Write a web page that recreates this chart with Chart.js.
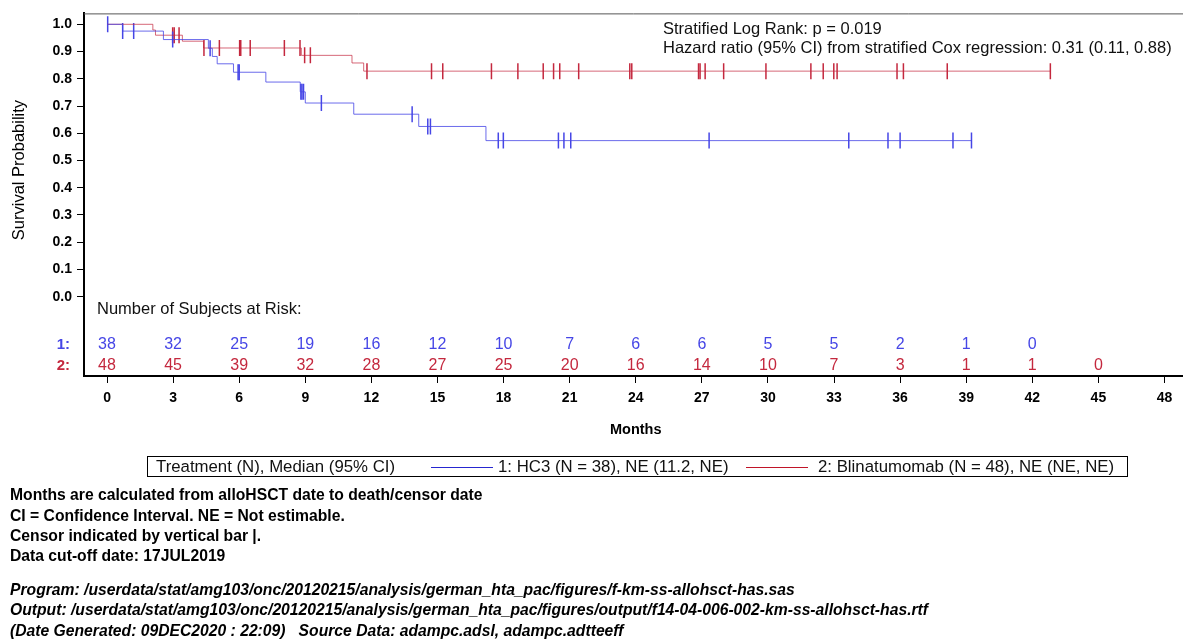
<!DOCTYPE html>
<html>
<head>
<meta charset="utf-8">
<script src="https://cdn.jsdelivr.net/npm/chart.js@4.4.0/dist/chart.umd.min.js"></script>
<style>
  body { margin: 0; background: #fff; font-family: "Liberation Sans", Arial, sans-serif; }
  #wrap { position: relative; width: 1183px; height: 642px; overflow: hidden; }
  #legendBox {
    position: absolute; left: 147px; top: 456px; width: 979px; height: 19px;
    border: 1px solid #000; font-size: 16.8px; color: #111; line-height: 19px;
  }
  #legendBox span { position: absolute; top: 0; white-space: nowrap; }
  #legendBox i { position: absolute; top: 10px; height: 1px; width: 62px; }
  .foot { position: absolute; left: 10px; font-size: 15.7px; line-height: 20px; color: #000; white-space: nowrap; }
  .bold { font-weight: bold; }
  .ital { font-style: italic; font-weight: bold; }
</style>
</head>
<body>
<div id="wrap">
  <canvas id="kmChart" width="1183" height="642"></canvas>
  <div id="legendBox">
    <span style="left:8px">Treatment (N), Median (95% CI)</span>
    <i style="left:283px;background:#2626d0"></i>
    <span style="left:350px">1: HC3 (N = 38), NE (11.2, NE)</span>
    <i style="left:598px;background:#c01428"></i>
    <span style="left:670px">2: Blinatumomab (N = 48), NE (NE, NE)</span>
  </div>
  <div class="foot bold" style="top:485px">Months are calculated from alloHSCT date to death/censor date</div>
  <div class="foot bold" style="top:506px">CI = Confidence Interval. NE = Not estimable.</div>
  <div class="foot bold" style="top:526px">Censor indicated by vertical bar |.</div>
  <div class="foot bold" style="top:546px">Data cut-off date: 17JUL2019</div>
  <div class="foot ital" style="top:580px">Program: /userdata/stat/amg103/onc/20120215/analysis/german_hta_pac/figures/f-km-ss-allohsct-has.sas</div>
  <div class="foot ital" style="top:600px">Output: /userdata/stat/amg103/onc/20120215/analysis/german_hta_pac/figures/output/f14-04-006-002-km-ss-allohsct-has.rtf</div>
  <div class="foot ital" style="top:621px">(Date Generated: 09DEC2020 : 22:09)&nbsp;&nbsp; Source Data: adampc.adsl, adampc.adtteeff</div>
</div>
<script>
// x axis tick values (months) and y axis tick values
const monthTicks = [0, 3, 6, 9, 12, 15, 18, 21, 24, 27, 30, 33, 36, 39, 42, 45, 48];
const survTicks = [0, 0.1, 0.2, 0.3, 0.4, 0.5, 0.6, 0.7, 0.8, 0.9, 1.0];

// KM step curves: time of each drop and survival after it (last entry = end of follow-up)
const hc3Time = [0, 0.71, 2.56, 4.60, 4.78, 5.00, 5.74, 7.21, 8.77, 9.00, 11.20, 14.15, 17.20, 39.24];
const hc3Surv = [1.0, 0.975, 0.944, 0.912, 0.882, 0.855, 0.824, 0.788, 0.752, 0.711, 0.670, 0.625, 0.573, 0.573];
const blinTime = [0, 2.08, 2.20, 3.42, 4.38, 8.82, 11.12, 11.65, 42.82];
const blinSurv = [1.0, 0.979, 0.960, 0.938, 0.913, 0.886, 0.858, 0.828, 0.828];

// censor times
const hc3Censor = [0.03, 0.71, 1.21, 2.98, 4.68, 5.95, 6.00, 8.80, 8.85, 8.92, 9.73, 13.85, 14.56, 14.68,
  17.76, 17.99, 20.49, 20.74, 21.05, 27.33, 33.67, 35.45, 36.00, 38.40, 39.24];
const blinCensor = [2.98, 3.05, 3.27, 4.40, 5.10, 6.02, 6.07, 6.50, 8.05, 8.76, 8.97, 9.23, 11.80,
  14.73, 15.24, 17.45, 18.65, 19.80, 20.27, 20.55, 21.41, 23.73, 23.82, 26.85, 26.92, 27.15, 27.99,
  29.91, 31.95, 32.51, 32.99, 33.14, 35.86, 36.15, 38.14, 42.82];

// number at risk
const riskMonths = [0, 3, 6, 9, 12, 15, 18, 21, 24, 27, 30, 33, 36, 39, 42, 45];
const hc3AtRisk = [38, 32, 25, 19, 16, 12, 10, 7, 6, 6, 5, 5, 2, 1, 0];
const blinAtRisk = [48, 45, 39, 32, 28, 27, 25, 20, 16, 14, 10, 7, 3, 1, 1, 0];

const BLUE = "rgb(70,70,230)";
const RED = "rgb(196,40,62)";
const FONT = "'Liberation Sans', Arial, sans-serif";

// survival level at a censor time (value of the step curve)
function levelAt(times, surv, t) {
  let s = surv[0];
  for (let i = 0; i < times.length; i++) {
    if (times[i] <= t) s = surv[i];
  }
  return s;
}

const pts = (xs, ys) => xs.map((x, i) => ({ x: x, y: ys[i] }));

const riskTable = {
  id: "riskTable",
  afterDraw(chart) {
    const ctx = chart.ctx;
    const xs = chart.scales.x;
    const ys = chart.scales.y;
    const area = chart.chartArea;
    ctx.save();

    // top frame line, and the x axis line carried on to the page edge
    ctx.strokeStyle = "#555";
    ctx.lineWidth = 1;
    ctx.beginPath();
    ctx.moveTo(area.left, area.top + 0.5);
    ctx.lineTo(chart.width, area.top + 0.5);
    ctx.stroke();
    ctx.strokeStyle = "#000";
    ctx.lineWidth = 2;
    ctx.beginPath();
    ctx.moveTo(area.right - 1, area.bottom);
    ctx.lineTo(chart.width, area.bottom);
    ctx.stroke();

    ctx.textBaseline = "middle";
    ctx.fillStyle = "#111";
    ctx.font = "16.5px " + FONT;
    ctx.textAlign = "left";
    ctx.fillText("Stratified Log Rank: p = 0.019", 663, 29);
    ctx.fillText("Hazard ratio (95% CI) from stratified Cox regression: 0.31 (0.11, 0.88)", 663, 48);

    ctx.fillText("Number of Subjects at Risk:", 97, 309);

    ctx.font = "bold 15px " + FONT;
    ctx.textAlign = "right";
    ctx.fillStyle = BLUE;
    ctx.fillText("1:", 70, 345);
    ctx.fillStyle = RED;
    ctx.fillText("2:", 70, 366);

    ctx.font = "16px " + FONT;
    ctx.textAlign = "center";
    ctx.fillStyle = BLUE;
    hc3AtRisk.forEach((n, i) => ctx.fillText(String(n), xs.getPixelForValue(riskMonths[i]), 345));
    ctx.fillStyle = RED;
    blinAtRisk.forEach((n, i) => ctx.fillText(String(n), xs.getPixelForValue(riskMonths[i]), 366));

    // axis titles
    ctx.fillStyle = "#000";
    ctx.font = "bold 14.5px " + FONT;
    ctx.fillText("Months", xs.getPixelForValue(24), 430);

    ctx.font = "16.5px " + FONT;
    ctx.translate(19, ys.getPixelForValue(0.465));
    ctx.rotate(-Math.PI / 2);
    ctx.fillText("Survival Probability", 0, 0);
    ctx.restore();
  }
};

new Chart(document.getElementById("kmChart"), {
  type: "line",
  data: {
    datasets: [
      {
        label: "HC3",
        data: pts(hc3Time, hc3Surv),
        borderColor: "rgba(70,70,230,0.8)",
        borderWidth: 1,
        stepped: "before",
        pointRadius: 0,
        fill: false
      },
      {
        label: "Blinatumomab",
        data: pts(blinTime, blinSurv),
        borderColor: "rgba(196,40,62,0.7)",
        borderWidth: 1,
        stepped: "before",
        pointRadius: 0,
        fill: false
      },
      {
        label: "HC3 censored",
        data: hc3Censor.map(t => ({ x: t, y: levelAt(hc3Time, hc3Surv, t) })),
        showLine: false,
        pointStyle: "line",
        rotation: 90,
        pointRadius: 8,
        borderColor: BLUE,
        pointBorderWidth: 1.5
      },
      {
        label: "Blinatumomab censored",
        data: blinCensor.map(t => ({ x: t, y: levelAt(blinTime, blinSurv, t) })),
        showLine: false,
        pointStyle: "line",
        rotation: 90,
        pointRadius: 8,
        borderColor: RED,
        pointBorderWidth: 1.5
      }
    ]
  },
  options: {
    responsive: false,
    animation: false,
    devicePixelRatio: 1,
    layout: { padding: { top: 10, left: 0, right: 0, bottom: 0 } },
    plugins: {
      legend: { display: false },
      tooltip: { enabled: false }
    },
    scales: {
      x: {
        type: "linear",
        min: -1.045,
        max: 48.41,
        afterFit: (scale) => { scale.height = 266; },
        afterBuildTicks: (scale) => { scale.ticks = monthTicks.map(v => ({ value: v })); },
        grid: { drawOnChartArea: false, drawTicks: true, tickLength: 7, tickColor: "#000" },
        border: { color: "#000", width: 2 },
        ticks: {
          color: "#000",
          font: { family: FONT, size: 14, weight: "bold" },
          padding: 7,
          maxRotation: 0,
          autoSkip: false
        }
      },
      y: {
        type: "linear",
        min: -0.291,
        max: 1.04,
        afterFit: (scale) => { scale.width = 84; },
        afterBuildTicks: (scale) => { scale.ticks = survTicks.map(v => ({ value: v })); },
        grid: { drawOnChartArea: false, drawTicks: true, tickLength: 7, tickColor: "#000" },
        border: { color: "#000", width: 2 },
        ticks: {
          color: "#000",
          font: { family: FONT, size: 14, weight: "bold" },
          padding: 5,
          callback: (v) => Number(v).toFixed(1)
        }
      }
    }
  },
  plugins: [riskTable]
});
</script>
</body>
</html>
